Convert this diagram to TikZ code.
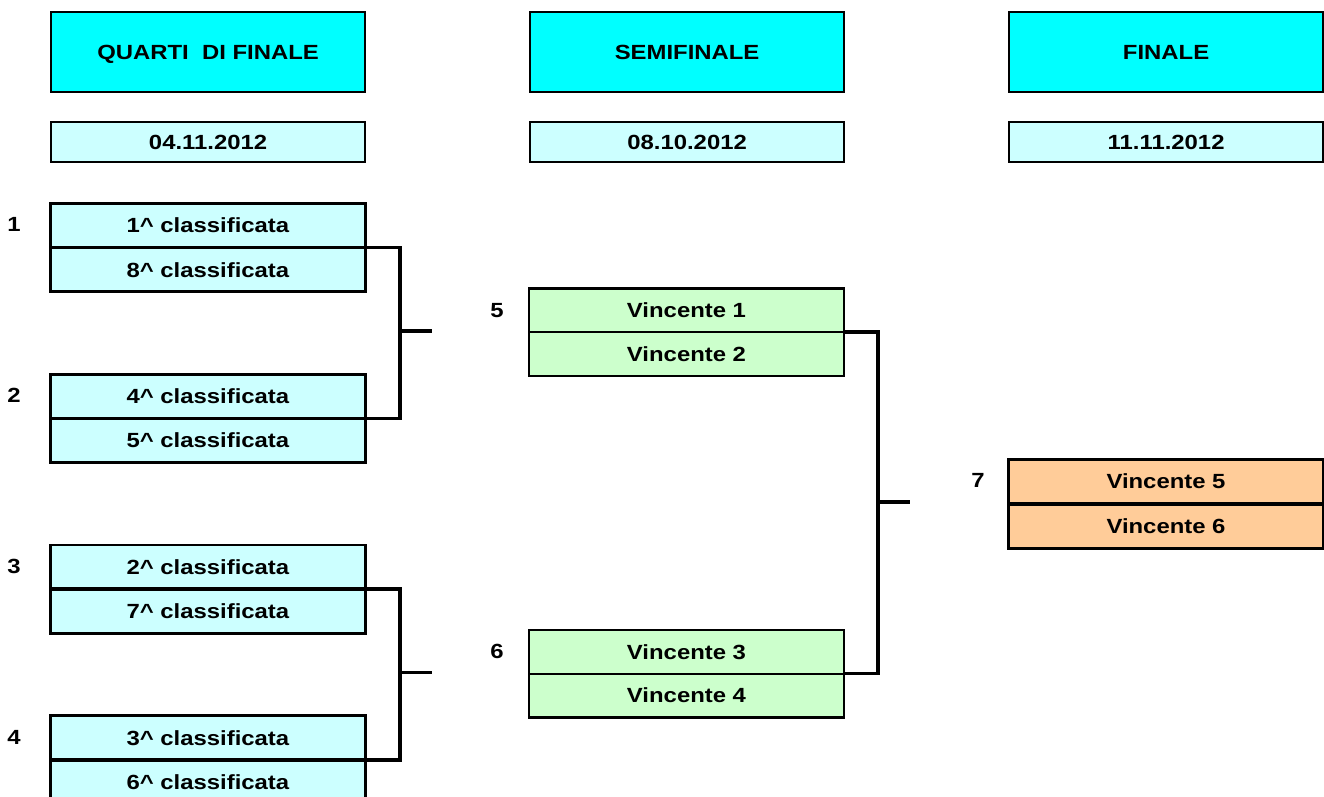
\documentclass[tikz,border=0pt]{standalone}
\usepackage{fontspec}
\newfontfamily\lab{Liberation Sans}[FakeStretch=1.165]
\definecolor{hcyan}{HTML}{00FFFF}
\definecolor{qcyan}{HTML}{CCFFFF}
\definecolor{sgreen}{HTML}{CCFFCC}
\definecolor{forange}{HTML}{FFCC99}
\tikzset{
  txt/.style={font=\lab\bfseries\fontsize{20.5}{24}\selectfont, text height=14.7pt, text depth=0pt, inner sep=0pt},
  cell/.style={txt, draw=black, minimum width=314pt, minimum height=42.7pt, anchor=north west},
  qcell/.style={cell, fill=qcyan, line width=1.8pt},
  scell/.style={cell, fill=sgreen, line width=1pt},
  fcell/.style={cell, fill=forange, line width=2pt},
  hdr/.style={txt, draw=black, line width=2.2pt, fill=hcyan, minimum width=314pt, minimum height=79.5pt, anchor=north west},
  datebox/.style={txt, draw=black, line width=2.2pt, fill=qcyan, minimum width=314pt, minimum height=40pt, anchor=north west},
  frame/.style={line width=2.2pt},
  bracket/.style={line width=3.4pt},
  numlab/.style={txt},
}
\begin{document}
\begin{tikzpicture}[x=1pt,y=1pt]
\useasboundingbox (0,0) rectangle (1324,-796);
% headers
\node[hdr] (h1) at (50,-11) {QUARTI~ DI FINALE};
\node[hdr] (h2) at (529,-11) {SEMIFINALE};
\node[hdr] (h3) at (1008,-11) {FINALE};
\node[datebox] (d1) at (50,-121) {04.11.2012};
\node[datebox] (d2) at (529,-121) {08.10.2012};
\node[datebox] (d3) at (1008,-121) {11.11.2012};
% quarter finals
\node[qcell] (q1a) at (50,-203) {1\^{} classificata};
\node[qcell] (q1b) at (q1a.south west) {8\^{} classificata};
\node[qcell] (q2a) at (50,-373.8) {4\^{} classificata};
\node[qcell] (q2b) at (q2a.south west) {5\^{} classificata};
\node[qcell] (q3a) at (50,-544.6) {2\^{} classificata};
\node[qcell] (q3b) at (q3a.south west) {7\^{} classificata};
\node[qcell] (q4a) at (50,-715.4) {3\^{} classificata};
\node[qcell] (q4b) at (q4a.south west) {6\^{} classificata};
% semifinals
\node[scell] (s5a) at (529,-288.4) {Vincente 1};
\node[scell] (s5b) at (s5a.south west) {Vincente 2};
\node[scell] (s6a) at (529,-630) {Vincente 3};
\node[scell] (s6b) at (s6a.south west) {Vincente 4};
% final
\node[fcell] (f7a) at (1008,-459.2) {Vincente 5};
\node[fcell] (f7b) at (f7a.south west) {Vincente 6};
% frames
\foreach \a/\b in {q1a/q1b,q2a/q2b,q3a/q3b,q4a/q4b,s5a/s5b,s6a/s6b,f7a/f7b}
  \draw[frame] (\a.north west) rectangle (\b.south east);
% numbers
\node[numlab] (n1) at (14,-224.4) {1};
\node[numlab] (n2) at (14,-395.1) {2};
\node[numlab] (n3) at (14,-565.9) {3};
\node[numlab] (n4) at (14,-736.7) {4};
\node[numlab] (n5) at (497,-309.7) {5};
\node[numlab] (n6) at (497,-651.3) {6};
\node[numlab] (n7) at (978,-480.5) {7};
% brackets
\coordinate (j1) at ([xshift=34pt]q1a.south east);
\coordinate (j2) at ([xshift=34pt]q3a.south east);
\coordinate (j3) at ([xshift=34pt]s5a.south east);
\coordinate (e1) at (432,-331.1);
\coordinate (e2) at (432,-672.7);
\coordinate (e3) at (910,-501.9);
\draw[bracket] (q1a.south east) -- (j1) |- (q2a.south east);
\draw[bracket] (j1 |- e1) -- (e1);
\draw[bracket] (q3a.south east) -- (j2) |- (q4a.south east);
\draw[bracket] (j2 |- e2) -- (e2);
\draw[bracket] (s5a.south east) -- (j3) |- (s6a.south east);
\draw[bracket] (j3 |- e3) -- (e3);
\end{tikzpicture}
\end{document}
